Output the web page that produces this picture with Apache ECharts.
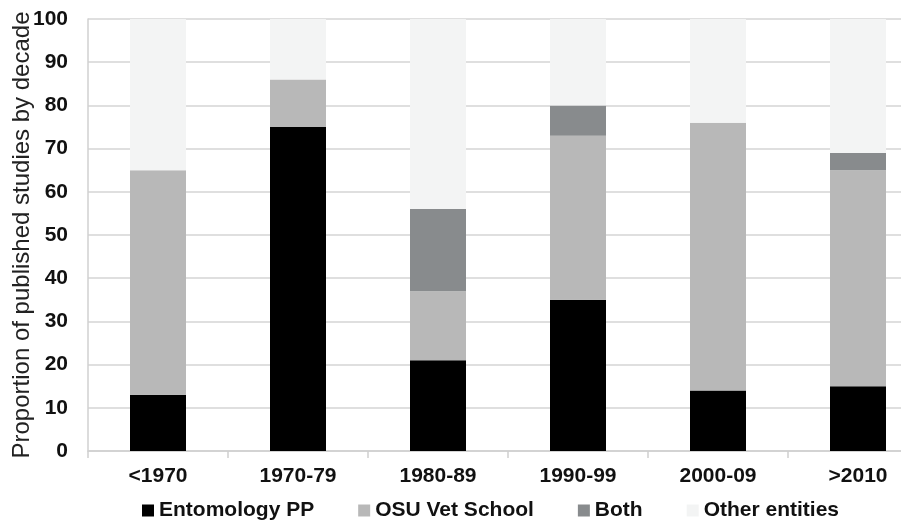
<!DOCTYPE html>
<html><head><meta charset="utf-8">
<script src="https://cdn.jsdelivr.net/npm/echarts@6/dist/echarts.min.js"></script>
<style>html,body{margin:0;padding:0;background:#fff}#c{width:901px;height:525px}</style>
</head><body><div id="c"></div>
<script>
var categories = ['<1970','1970-79','1980-89','1990-99','2000-09','>2010'];
var entomology = [13,75,21,35,14,15];
var osuVet = [52,11,16,38,62,50];
var both = [0,0,19,7,0,4];
var other = [35,14,44,20,24,31];
var yTicks = [0,10,20,30,40,50,60,70,80,90,100];

var chart = echarts.init(document.getElementById('c'));
var font = 'Liberation Sans, Arial, sans-serif';
function s(name, data, color){
  return {name:name,type:'bar',stack:'t',data:data,barWidth:56,itemStyle:{color:color},emphasis:{disabled:true}};
}
chart.setOption({
  animation:false,
  textStyle:{fontFamily:font},
  grid:{left:88,right:-27,top:19,bottom:74,outerBoundsMode:'none',containLabel:false},
  legend:{
    top:495,left:137,itemWidth:12,itemHeight:12,itemGap:44,
    icon:'rect',
    textStyle:{fontFamily:font,fontWeight:'bold',fontSize:21,color:'#111'},
    data:['Entomology PP','OSU Vet School','Both','Other entities']
  },
  xAxis:{
    type:'category',data:categories,
    axisLine:{lineStyle:{color:'#d0d0d0',width:1.5}},
    axisTick:{show:true,length:7,lineStyle:{color:'#d0d0d0',width:1.5}},
    axisLabel:{fontFamily:font,fontWeight:'bold',fontSize:21,color:'#111',margin:15}
  },
  yAxis:{
    type:'value',min:yTicks[0],max:yTicks[yTicks.length-1],interval:10,
    name:'Proportion of published studies by decade',nameLocation:'middle',nameGap:54,
    nameMoveOverlap:false,
    nameTextStyle:{fontFamily:font,fontSize:24,color:'#222'},
    axisLine:{show:true,lineStyle:{color:'#d0d0d0',width:1.5}},
    axisTick:{show:false},
    splitLine:{lineStyle:{color:'#d4d4d4',width:1.5}},
    axisLabel:{fontFamily:font,fontWeight:'bold',fontSize:21,color:'#111',margin:20}
  },
  series:[
    s('Entomology PP',entomology,'#000000'),
    s('OSU Vet School',osuVet,'#b8b8b8'),
    s('Both',both,'#888b8d'),
    s('Other entities',other,'#f3f4f4')
  ]
});
</script></body></html>
